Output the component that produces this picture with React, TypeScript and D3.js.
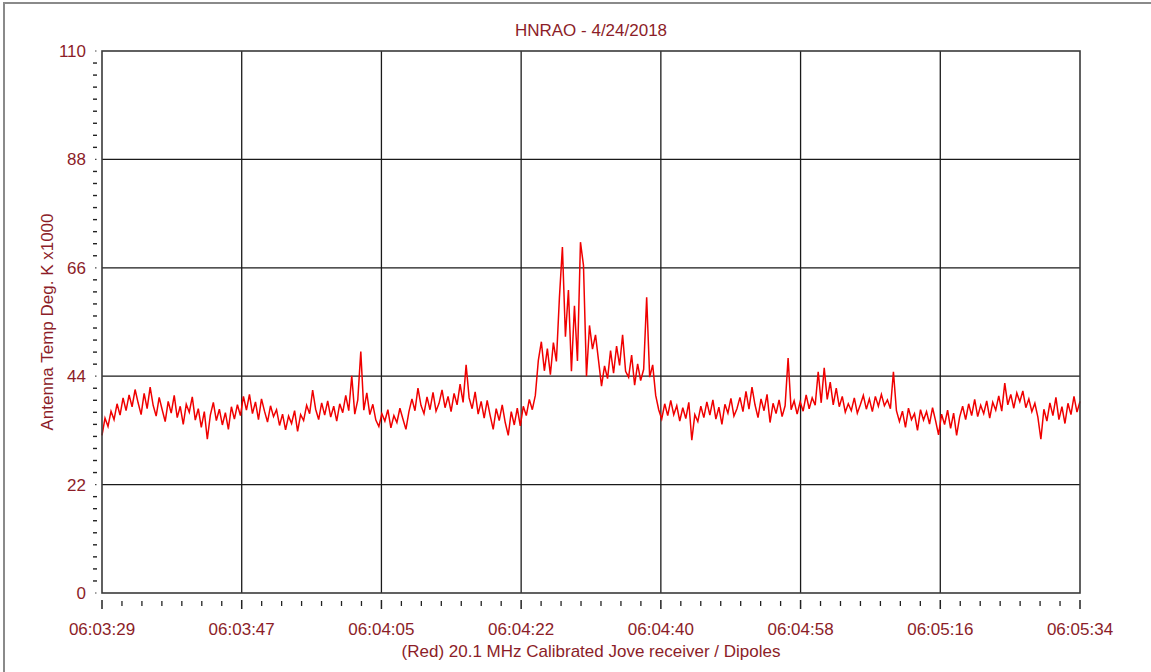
import React from "react";
import * as d3 from "d3";

const title = "HNRAO - 4/24/2018";
const yAxisTitle = "Antenna Temp Deg. K x1000";
const xAxisTitle = "(Red) 20.1 MHz Calibrated Jove receiver / Dipoles";
const timeTickLabels = ["06:03:29", "06:03:47", "06:04:05", "06:04:22", "06:04:40", "06:04:58", "06:05:16", "06:05:34"];
const yTickValues = [0, 22, 44, 66, 88, 110];
const durationSeconds = 125;

// Antenna temperature (K x1000), sampled uniformly over the time window
const tempValues = [
  32.0, 35.5, 33.8, 36.9, 35.2, 38.4, 36.1, 39.6, 37.0, 40.2,
  37.8, 41.3, 38.6, 36.2, 40.5, 37.4, 41.8, 38.1, 35.9, 39.7,
  37.2, 34.8, 38.9, 36.5, 40.1, 35.6, 37.9, 34.2, 38.3, 36.7,
  39.8, 35.1, 37.4, 33.6, 36.8, 31.2, 36.1, 38.7, 35.0, 37.3,
  34.1, 36.6, 33.2, 37.8, 35.3, 38.2, 36.0, 39.9, 37.1, 40.3,
  36.4, 38.8, 35.2, 39.4, 36.9, 34.7, 38.0, 35.8, 37.2, 34.0,
  36.3, 33.1, 35.9, 34.4, 37.0, 32.8, 36.2, 35.0, 38.1, 36.4,
  41.2, 37.3, 35.2, 38.6, 36.1, 39.0, 35.7, 37.9, 34.9, 38.4,
  36.6, 40.1, 37.0, 44.1, 36.3, 39.2, 49.0, 37.1, 40.6, 36.2,
  38.3, 35.1, 33.8, 36.4, 34.9, 37.2, 33.5, 36.0, 34.6, 37.5,
  35.3, 33.2, 36.8, 39.4, 37.0, 41.6, 38.1, 36.4, 39.8, 37.2,
  40.7, 36.9, 38.5, 41.2, 37.6, 39.9, 36.8, 40.5, 38.2, 42.4,
  38.7, 46.3, 39.6, 37.4, 40.8, 36.3, 38.9, 35.5, 39.1, 36.0,
  33.2, 37.4, 35.0, 38.2, 34.6, 32.0, 36.8, 34.1, 37.5, 33.9,
  37.9, 36.0, 39.3, 37.2, 40.1, 47.2, 51.0, 45.1, 49.6, 44.3,
  50.8, 47.0, 59.9, 70.2, 52.0, 61.5, 45.0, 58.3, 47.1, 71.2,
  66.5, 44.0, 54.3, 49.5, 52.4, 47.2, 42.0, 46.1, 43.5, 49.2,
  44.6, 50.1, 46.2, 52.4, 45.0, 43.8, 48.3, 42.2, 46.5, 43.1,
  45.4, 60.0, 43.8, 46.3, 40.1, 37.2, 35.3, 38.4, 36.0, 39.1,
  36.2, 38.0, 34.9, 37.6, 35.4, 38.7, 31.0, 36.2, 34.8, 37.9,
  35.6, 38.8, 36.1, 39.2, 35.3, 37.7, 34.2, 38.3, 36.5, 39.5,
  35.9, 37.4, 39.7, 36.8, 40.9, 37.3, 41.8, 38.2, 35.6, 39.4,
  37.0, 40.3, 34.6, 38.5, 36.4, 39.2, 35.8, 38.0, 47.7, 37.2,
  39.0, 36.3, 38.8, 36.9, 40.2, 37.4, 39.6, 38.1, 44.9, 38.6,
  45.7, 39.3, 42.8, 38.2, 41.6, 37.8, 39.9, 36.7, 38.4, 37.0,
  39.6, 36.5, 38.2, 40.1, 37.3, 39.4, 36.8, 39.9, 37.9, 40.3,
  38.0, 39.2, 37.4, 44.9, 37.0, 34.8, 36.9, 33.6, 37.5, 35.2,
  36.4, 33.0, 37.2, 35.1, 36.8, 34.3, 37.6, 35.0, 32.1, 36.3,
  34.2, 37.1, 33.4, 36.5, 32.0, 35.7, 37.9, 35.2, 38.4, 36.0,
  39.3, 35.8, 38.1, 36.4, 39.0, 35.5, 38.7, 37.1, 40.0, 36.9,
  42.6, 38.2, 40.3, 37.5, 40.6, 38.8, 41.0, 37.6, 39.4, 36.8,
  38.5, 35.7, 31.2, 37.3, 34.9, 38.6, 36.0, 39.7, 35.2, 37.8,
  34.4, 38.5, 36.2, 39.9, 36.7, 38.9,
];

const W = 1151;
const H = 672;
const M = { left: 102, right: 1080, top: 51, bottom: 593 };
const textColor = "#8c1d28";
const font = "'Liberation Sans', Arial, sans-serif";

export default function App() {
  const x = d3.scaleLinear().domain([0, durationSeconds]).range([M.left, M.right]);
  const y = d3.scaleLinear().domain([0, 110]).range([M.bottom, M.top]);
  const n = tempValues.length;
  const pts: [number, number][] = tempValues.map((v, i) => [(i * durationSeconds) / (n - 1), v]);
  const line = d3
    .line<[number, number]>()
    .x((d) => x(d[0]))
    .y((d) => y(d[1]));

  const majorX = timeTickLabels.map((_, k) => (k * durationSeconds) / (timeTickLabels.length - 1));
  const minorXCount = (timeTickLabels.length - 1) * 7;
  const minorX = d3.range(minorXCount + 1).filter((j) => j % 7 !== 0).map((j) => (j * durationSeconds) / minorXCount);
  const minorYCount = (yTickValues.length - 1) * 9;
  const minorY = d3.range(minorYCount + 1).filter((j) => j % 9 !== 0).map((j) => (j * 110) / minorYCount);

  return (
    <div style={{ position: "absolute", left: 0, top: 0, width: W, height: H, background: "#fff" }}>
      <svg width={W} height={H} style={{ display: "block" }}>
        <rect x={0} y={0} width={W} height={H} fill="#fff" />
        <line x1={4} x2={4} y1={2} y2={H} stroke="#8a8a8a" strokeWidth={2} />
        <line x1={3} x2={W} y1={3} y2={3} stroke="#8a8a8a" strokeWidth={2} />

        {/* grid */}
        {majorX.slice(1, -1).map((t, k) => (
          <line key={"gx" + k} x1={x(t)} x2={x(t)} y1={M.top} y2={M.bottom} stroke="#1a1a1a" strokeWidth={1.3} />
        ))}
        {yTickValues.slice(1, -1).map((v, k) => (
          <line key={"gy" + k} x1={M.left} x2={M.right} y1={y(v)} y2={y(v)} stroke="#1a1a1a" strokeWidth={1.3} />
        ))}

        {/* data */}
        <path d={line(pts) || ""} fill="none" stroke="#f00000" strokeWidth={1.5} strokeLinejoin="miter" />

        {/* frame */}
        <rect x={M.left} y={M.top} width={M.right - M.left} height={M.bottom - M.top} fill="none" stroke="#3a3a3a" strokeWidth={1.6} />

        {/* y ticks */}
        {minorY.map((v, k) => (
          <line key={"my" + k} x1={93} x2={97} y1={y(v)} y2={y(v)} stroke="#222" strokeWidth={1.4} />
        ))}
        {yTickValues.map((v) => (
          <g key={"yt" + v}>
            <line x1={95} x2={96.5} y1={y(v)} y2={y(v)} stroke="#444" strokeWidth={1.2} />
            <text x={86} y={y(v) + 6} textAnchor="end" fontFamily={font} fontSize={17} fill={textColor}>
              {v}
            </text>
          </g>
        ))}

        {/* x ticks */}
        {minorX.map((t, k) => (
          <line key={"mx" + k} x1={x(t)} x2={x(t)} y1={601} y2={606} stroke="#222" strokeWidth={1.3} />
        ))}
        {majorX.map((t, k) => (
          <g key={"xt" + k}>
            <line x1={x(t)} x2={x(t)} y1={600} y2={609} stroke="#222" strokeWidth={1.5} />
            <text x={x(t)} y={635} textAnchor="middle" fontFamily={font} fontSize={17} fill={textColor}>
              {timeTickLabels[k]}
            </text>
          </g>
        ))}

        {/* titles */}
        <text x={591} y={36} textAnchor="middle" fontFamily={font} fontSize={17} fill={textColor}>
          {title}
        </text>
        <text x={591} y={657} textAnchor="middle" fontFamily={font} fontSize={17} fill={textColor}>
          {xAxisTitle}
        </text>
        <text
          transform={`translate(53, ${(M.top + M.bottom) / 2}) rotate(-90)`}
          textAnchor="middle"
          fontFamily={font}
          fontSize={17}
          fill={textColor}
        >
          {yAxisTitle}
        </text>
      </svg>
    </div>
  );
}
